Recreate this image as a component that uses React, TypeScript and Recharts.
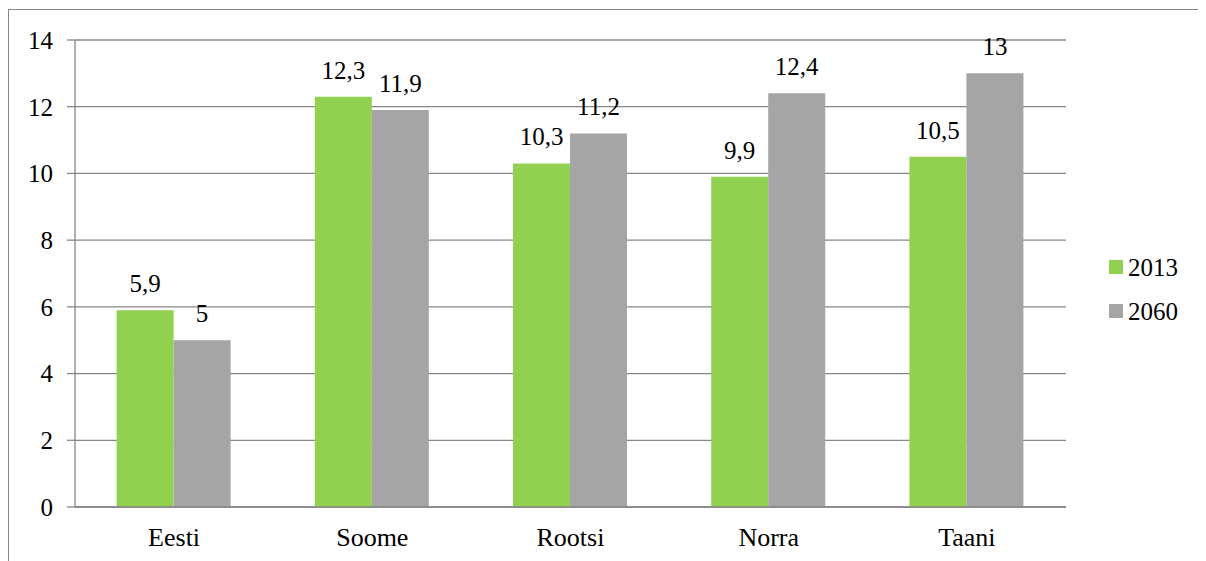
import React from 'react';
import {
  BarChart,
  Bar,
  XAxis,
  YAxis,
  CartesianGrid,
  Legend,
  LabelList,
} from 'recharts';

const countries = ['Eesti', 'Soome', 'Rootsi', 'Norra', 'Taani'];
const values2013 = [5.9, 12.3, 10.3, 9.9, 10.5];
const values2060 = [5, 11.9, 11.2, 12.4, 13];
const yTicks = [0, 2, 4, 6, 8, 10, 12, 14];
const seriesNames = ['2013', '2060'];
const seriesColors = ['#92D050', '#A5A5A5'];

const data = countries.map((name, i) => ({
  name,
  v2013: values2013[i],
  v2060: values2060[i],
}));

const FONT = 'Liberation Serif, Times New Roman, serif';
const AXIS = '#868686';

// values are shown with a decimal comma
const formatComma = (v: any) => String(v).replace('.', ',');

const LegendBox = ({ payload }: any) => (
  <div style={{ fontFamily: FONT, fontSize: 25, color: '#000' }}>
    {(payload || []).map((p: any) => (
      <div key={p.value} style={{ display: 'flex', alignItems: 'center', height: 44 }}>
        <span style={{ width: 14, height: 14, background: p.color, marginRight: 5, display: 'inline-block' }} />
        <span style={{ lineHeight: 1 }}>{p.value}</span>
      </div>
    ))}
  </div>
);

const App: React.FC = () => {
  return (
    <div
      style={{
        position: 'relative',
        width: 1198,
        height: 553,
        borderTop: `1px solid ${AXIS}`,
        borderLeft: `1px solid ${AXIS}`,
        boxSizing: 'border-box',
        marginTop: 1,
        background: '#fff',
        fontFamily: FONT,
      }}
    >
      <div style={{ position: 'absolute', left: -1, top: -1 }}>
        <BarChart
          width={1198}
          height={553}
          data={data}
          margin={{ top: 31, right: 140, bottom: 0, left: 7 }}
          barCategoryGap="21%"
          barGap={0}
        >
          <CartesianGrid vertical={false} stroke={AXIS} strokeWidth={1.3} xAxisId="cat" />
          {/* tick marks between categories */}
          <XAxis
            xAxisId="bounds"
            type="number"
            domain={[0, 5]}
            ticks={[0, 1, 2, 3, 4, 5]}
            height={1}
            tick={false}
            tickSize={8}
            stroke={AXIS}
            strokeWidth={1.3}
            allowDataOverflow
          />
          <XAxis
            xAxisId="cat"
            dataKey="name"
            height={54}
            axisLine={false}
            tickLine={false}
            tickSize={0}
            tickMargin={20}
            tick={{ fill: '#000', fontSize: 26, fontFamily: FONT }}
          />
          <YAxis
            width={60}
            domain={[0, 14]}
            ticks={yTicks}
            interval={0}
            tickSize={8}
            tickMargin={14}
            stroke={AXIS}
            strokeWidth={1.3}
            tick={{ fill: '#000', fontSize: 25, fontFamily: FONT }}
          />
          <Legend
            layout="vertical"
            align="center"
            verticalAlign="middle"
            wrapperStyle={{ left: 1101, top: 236, width: 90 }}
            content={<LegendBox />}
          />
          <Bar xAxisId="cat" dataKey="v2013" name={seriesNames[0]} fill={seriesColors[0]} isAnimationActive={false}>
            <LabelList
              dataKey="v2013"
              position="top"
              offset={18}
              formatter={formatComma}
              fill="#000"
              fontSize={25}
              fontFamily={FONT}
            />
          </Bar>
          <Bar xAxisId="cat" dataKey="v2060" name={seriesNames[1]} fill={seriesColors[1]} isAnimationActive={false}>
            <LabelList
              dataKey="v2060"
              position="top"
              offset={18}
              formatter={formatComma}
              fill="#000"
              fontSize={25}
              fontFamily={FONT}
            />
          </Bar>
        </BarChart>
      </div>
    </div>
  );
};

export default App;
